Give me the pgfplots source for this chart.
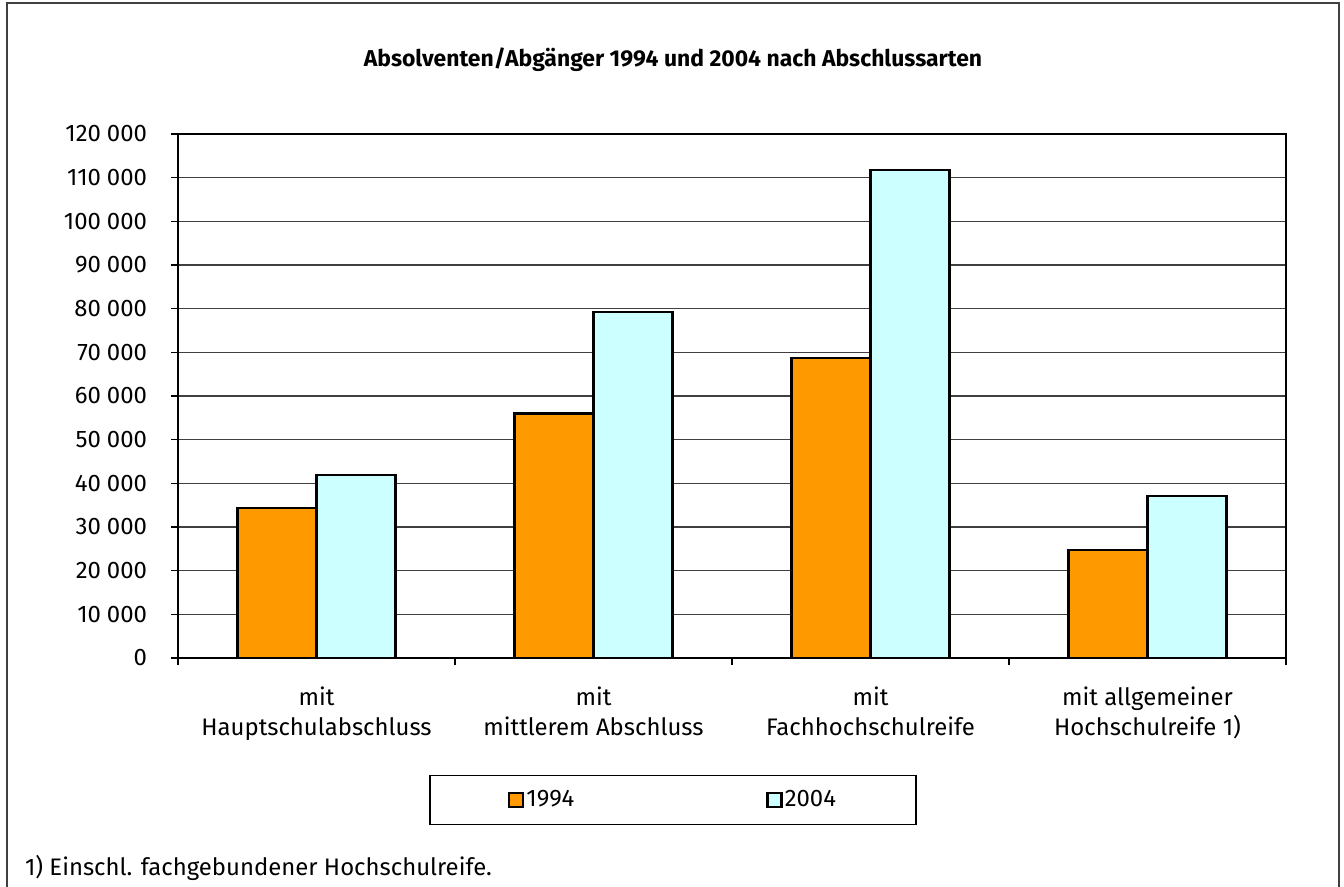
\documentclass[border=0pt]{standalone}
\usepackage{fontspec}
\setmainfont{Fira Sans}
\usepackage{pgfplots}
\pgfplotsset{compat=1.18}
\definecolor{c1994}{HTML}{FF9900}
\definecolor{c2004}{HTML}{CCFFFF}
\pgfplotsset{sqlegend/.style={legend image code/.code={\draw[##1, line width=1.2bp] (0bp,-3.5bp) rectangle (7bp,3.5bp);}}}

\pgfplotstableread{
x  y94    y04
0  34300  41900
1  56000  79300
2  68700  111700
3  24700  37100
}\abschluss

\begin{document}
\begin{tikzpicture}[x=1bp,y=1bp]
\useasboundingbox (0,0) rectangle (672,-443.5);
\draw[line width=1.2bp, black!75] (3.5,-1.5) rectangle (669.5,-470);
\node[font=\bfseries\fontsize{11.5}{13}\selectfont] at (336.5,-30) {Absolventen/Abgänger 1994 und 2004 nach Abschlussarten};
\begin{axis}[
  at={(89bp,-329bp)}, anchor=south west,
  scale only axis, width=554bp, height=262bp,
  ybar=0pt, bar width=39.5bp,
  xmin=-0.5, xmax=3.5, ymin=0, ymax=120000,
  xtick={0,1,2,3},
  xticklabels={mit\\Hauptschulabschluss, mit\\mittlerem Abschluss, mit\\Fachhochschulreife, mit allgemeiner\\Hochschulreife 1)},
  xticklabel style={align=center, font=\fontsize{12}{15}\selectfont, yshift=-7.5bp},
  major x tick style={draw=none},
  minor xtick={-0.5,0.5,1.5,2.5,3.5},
  minor tick length=3.5bp,
  ytick={0,10000,...,120000},
  scaled y ticks=false,
  yticklabels={0, 10\kern0.25em000, 20\kern0.25em000, 30\kern0.25em000, 40\kern0.25em000, 50\kern0.25em000, 60\kern0.25em000, 70\kern0.25em000, 80\kern0.25em000, 90\kern0.25em000, 100\kern0.25em000, 110\kern0.25em000, 120\kern0.25em000},
  yticklabel style={font=\fontsize{12}{14}\selectfont, xshift=-8.5bp},
  tick align=outside, tick pos=left,
  major tick length=3.5bp,
  ymajorgrids,
  grid style={black!75, line width=0.6bp},
  axis line style={black, line width=0.6bp},
  tick style={black, line width=0.6bp},
  legend columns=2,
  legend style={draw=black, line width=0.6bp, at={(0.4468,-0.271)}, anchor=center,
    minimum width=243bp, minimum height=24.5bp,
    nodes={minimum width=0pt, minimum height=0pt, inner xsep=1bp},
    font=\fontsize{12}{14}\selectfont,
    /tikz/every even column/.append style={column sep=95bp}},
]
\addplot[fill=c1994, draw=black, line width=1.2bp, area legend, sqlegend]
  table[x=x, y=y94] {\abschluss};
\addplot[fill=c2004, draw=black, line width=1.2bp, area legend, sqlegend]
  table[x=x, y=y04] {\abschluss};
\legend{1994, 2004}
\end{axis}
\node[anchor=west, font=\fontsize{12}{14}\selectfont] at (9,-434) {1) Einschl. fachgebundener Hochschulreife.};
\end{tikzpicture}
\end{document}
